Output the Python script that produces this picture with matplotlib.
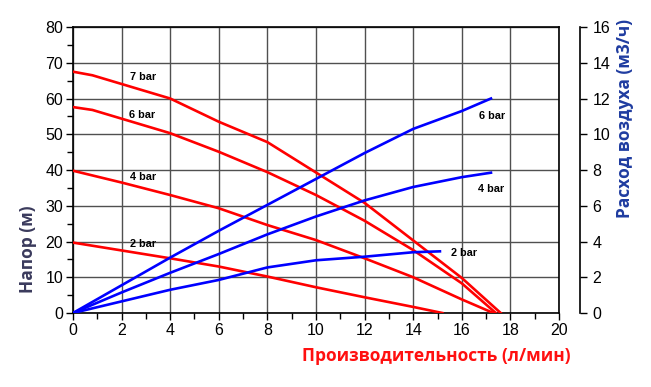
import matplotlib
matplotlib.use("Agg")
import matplotlib.pyplot as plt
from matplotlib.ticker import MultipleLocator

# Head curves (flow l/min -> head m)
x7 = [0, 0.8, 4, 6, 8, 10, 12, 14, 16, 17.6]
h7 = [67.5, 66.5, 60, 53.5, 47.8, 39.3, 30.8, 20.3, 9.8, 0]
x6 = [0, 0.8, 4, 6, 8, 10, 12, 14, 16, 17.4]
h6 = [57.6, 56.8, 50.3, 45.1, 39.4, 33.0, 25.8, 17.6, 8.3, 0]
x4 = [0, 2, 4, 6, 8, 10, 12, 14, 16, 17.3]
h4 = [39.8, 36.5, 33.0, 29.3, 24.6, 20.4, 15.3, 10.0, 3.8, 0]
x2 = [0, 2, 4, 6, 8, 10, 12, 14, 15.2]
h2 = [19.7, 17.5, 15.3, 13.0, 10.2, 7.2, 4.4, 1.7, 0]

# Air consumption curves (flow l/min -> m3/h)
xa6 = [0, 2, 4, 6, 8, 10, 12, 14, 16, 17.2]
qa6 = [0, 1.55, 3.1, 4.6, 6.05, 7.5, 8.95, 10.3, 11.3, 12.0]
xa4 = [0, 2, 4, 6, 8, 10, 12, 14, 16, 17.2]
qa4 = [0, 1.15, 2.25, 3.3, 4.4, 5.4, 6.3, 7.05, 7.6, 7.85]
xa2 = [0, 2, 4, 6, 8, 10, 12, 14, 15.1]
qa2 = [0, 0.65, 1.3, 1.85, 2.55, 2.95, 3.15, 3.4, 3.45]

head_labels = ["7 bar", "6 bar", "4 bar", "2 bar"]
air_labels = ["6 bar", "4 bar", "2 bar"]

RED = "#ff0000"
BLUE = "#0000ff"

fig = plt.figure(figsize=(6.51, 3.87), dpi=100)
ax = fig.add_axes([0.1121, 0.1912, 0.7466, 0.739])

for xs, ys in [(x7, h7), (x6, h6), (x4, h4), (x2, h2)]:
    ax.plot(xs, ys, color=RED, lw=1.9, zorder=3, solid_joinstyle="round")

ax.set_xlim(0, 20)
ax.set_ylim(0, 80)
ax.xaxis.set_major_locator(MultipleLocator(2))
ax.xaxis.set_minor_locator(MultipleLocator(1))
ax.yaxis.set_major_locator(MultipleLocator(10))
ax.yaxis.set_minor_locator(MultipleLocator(5))
ax.grid(True, which="major", color="#505050", lw=1.0, zorder=1)
ax.tick_params(which="both", direction="out", length=5, width=1, labelsize=11.5,
               colors="black", pad=2)
ax.tick_params(which="minor", length=4)
for sp in ax.spines.values():
    sp.set_linewidth(1.2)
    sp.set_color("black")
for lab in ax.get_xticklabels() + ax.get_yticklabels():
    lab.set_family("Liberation Sans")

ax2 = ax.twinx()
for xs, ys in [(xa6, qa6), (xa4, qa4), (xa2, qa2)]:
    ax2.plot(xs, ys, color=BLUE, lw=1.9, zorder=3, solid_joinstyle="round")
ax2.set_ylim(0, 16)
ax2.yaxis.set_major_locator(MultipleLocator(2))
ax2.spines["right"].set_position(("outward", 15))
ax2.spines["right"].set_linewidth(1.2)
for s in ["top", "left", "bottom"]:
    ax2.spines[s].set_visible(False)
ax2.tick_params(axis="y", direction="out", length=5, width=1, labelsize=11.5, pad=4)
for lab in ax2.get_yticklabels():
    lab.set_family("Liberation Sans")

# curve labels
lbl_kw = dict(fontsize=7.8, fontweight="bold", family="Liberation Sans", ha="left", va="center")
for (lx, ly), t in zip([(2.35, 66.0), (2.3, 55.3), (2.35, 38.0), (2.35, 19.3)], head_labels):
    ax.text(lx, ly, t, **lbl_kw)
for (lx, ly), t in zip([(16.7, 11.0), (16.65, 6.95), (15.55, 3.35)], air_labels):
    ax2.text(lx, ly, t, **lbl_kw)

# axis titles
ax.text(0.747, -0.152, "Производительность (л/мин)", transform=ax.transAxes,
        ha="center", va="center", color="#ff1010", fontsize=12.5, fontweight="bold",
        family="Open Sans")
ax.text(-0.093, 0.224, "Напор (м)", transform=ax.transAxes, rotation=90,
        ha="center", va="center", color="#3a3a5c", fontsize=12.5, fontweight="bold",
        family="Open Sans")
ax.text(1.136, 0.68, "Расход воздуха (м3/ч)", transform=ax.transAxes, rotation=90,
        ha="center", va="center", color="#1f3ca0", fontsize=12.5, fontweight="bold",
        family="Open Sans")

fig.savefig("out.png", dpi=100)
